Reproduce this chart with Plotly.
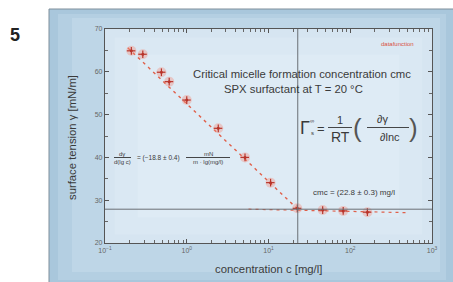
import plotly.graph_objects as go

# ---- data ----
conc = [0.21, 0.29, 0.49, 0.61, 1.0, 2.43, 5.16, 10.6, 22.5, 46, 82, 162]
gamma = [64.9, 64.1, 59.9, 57.7, 53.4, 46.8, 40.0, 34.1, 28.1, 27.7, 27.5, 27.2]
gamma_err = [0.9] * len(conc)

fit_c = [0.19, 22.8]
fit_g = [65.6, 27.9]
plateau_c = [5.7, 480]
plateau_g = [27.9, 27.1]

cmc_value = 22.8
plateau_level = 27.9

x_tickvals = [0.1, 1, 10, 100, 1000]
x_ticktext = ["10<sup>−1</sup>", "10<sup>0</sup>", "10<sup>1</sup>", "10<sup>2</sup>", "10<sup>3</sup>"]
y_tickvals = [20, 30, 40, 50, 60, 70]

# ---- layout geometry (pixels) ----
W, H = 453, 282
L, R, T, B = 105, 21, 29, 39
PW, PH = W - L - R, H - T - B


def px(x):
    return (x - L) / PW


def py(y):
    return (H - B - y) / PH


fig = go.Figure()

fig.add_trace(go.Scatter(x=fit_c, y=fit_g, mode="lines",
                         line=dict(color="#e0604a", width=1.4, dash="3px,4px"),
                         hoverinfo="skip", showlegend=False))
fig.add_trace(go.Scatter(x=plateau_c, y=plateau_g, mode="lines",
                         line=dict(color="#e0604a", width=1.2, dash="3px,4px"),
                         hoverinfo="skip", showlegend=False))
# halo
fig.add_trace(go.Scatter(x=conc, y=gamma, mode="markers",
                         marker=dict(size=10, color="rgba(245,140,120,0.38)", line=dict(width=0)),
                         hoverinfo="skip", showlegend=False))
fig.add_trace(go.Scatter(x=conc, y=gamma, mode="markers",
                         marker=dict(size=3, color="#b8342a"),
                         error_y=dict(type="data", array=gamma_err, color="#b8342a", thickness=1.2, width=0),
                         error_x=dict(type="percent", value=12, color="#b8342a", thickness=1.2, width=0),
                         showlegend=False))

minor_x = [k * 10 ** n for n in range(-1, 3) for k in range(2, 10)]

fig.update_xaxes(type="log", range=[-1, 3], tickvals=x_tickvals, ticktext=x_ticktext,
                 ticks="inside", ticklen=4, tickcolor="#555", showline=True, linecolor="#555",
                 linewidth=1.3, mirror="ticks", showgrid=False, zeroline=False,
                 tickfont=dict(family="Liberation Sans, Arial", size=7, color="#666"),
                 minor=dict(tickvals=minor_x, ticks="inside", ticklen=2.5, tickcolor="#666"))
fig.update_yaxes(range=[20, 70], tickvals=y_tickvals, ticks="inside", ticklen=4, tickcolor="#555",
                 showline=True, linecolor="#555", linewidth=1.3, mirror="ticks", showgrid=False,
                 zeroline=False, tickfont=dict(family="Liberation Sans, Arial", size=7, color="#666"),
                 minor=dict(dtick=5, ticks="inside", ticklen=3, tickcolor="#666"))

shapes = []
# outer blue panel with soft gradient imitation
shapes.append(dict(type="rect", xref="paper", yref="paper", x0=px(49), x1=px(460), y0=py(290), y1=py(9),
                   fillcolor="#a9c7dc", line=dict(color="#7f8f9a", width=1), layer="below"))
shapes.append(dict(type="rect", xref="paper", yref="paper", x0=px(58), x1=px(446), y0=py(280), y1=py(14),
                   fillcolor="#b4cfe2", line=dict(width=0), layer="below"))
shapes.append(dict(type="rect", xref="paper", yref="paper", x0=px(72), x1=px(440), y0=py(272), y1=py(18),
                   fillcolor="#bed6e7", line=dict(width=0), layer="below"))
# plot area background
shapes.append(dict(type="rect", xref="paper", yref="paper", x0=0, x1=1, y0=0, y1=1,
                   fillcolor="#d6e5f1", line=dict(width=0), layer="below"))
shapes.append(dict(type="rect", xref="paper", yref="paper", x0=0.03, x1=0.97, y0=0.04, y1=0.96,
                   fillcolor="#dae8f3", line=dict(width=0), layer="below"))
shapes.append(dict(type="rect", xref="paper", yref="paper", x0=0.1, x1=0.9, y0=0.12, y1=0.88,
                   fillcolor="#deebf5", line=dict(width=0), layer="below"))
# cmc lines
shapes.append(dict(type="line", xref="x", yref="paper", x0=cmc_value, x1=cmc_value, y0=0, y1=1,
                   line=dict(color="#6a6f75", width=1)))
shapes.append(dict(type="line", xref="paper", yref="y", x0=0, x1=1, y0=plateau_level, y1=plateau_level,
                   line=dict(color="#6a6f75", width=1)))
# fraction bars
for (xa, xb, yy) in [(328, 352, 127.5), (367, 409, 127.5), (114, 131, 157.5), (186, 230, 157.5)]:
    shapes.append(dict(type="line", xref="paper", yref="paper", x0=px(xa), x1=px(xb), y0=py(yy), y1=py(yy),
                       line=dict(color="#333", width=0.9)))
fig.update_layout(shapes=shapes)

FONT = "Liberation Sans, Arial, sans-serif"
anns = []


def txt(t, x, y, size, color="#3a3a3a", angle=0, xanchor="center"):
    anns.append(dict(text=t, xref="paper", yref="paper", x=px(x), y=py(y), showarrow=False,
                     xanchor=xanchor, yanchor="middle", textangle=angle,
                     font=dict(family=FONT, size=size, color=color)))


txt("<b>5</b>", 15, 35, 18, color="#222")

txt("Critical micelle formation concentration cmc", 302, 74, 11.3)
txt("SPX surfactant at T = 20 °C", 293, 89, 11.3)
txt("datafunction", 397, 44, 6, color="#d9503f")
txt("cmc = (22.8 ± 0.3) mg/l", 354, 192, 8)
txt("surface tension γ [mN/m]", 72, 138, 11.3, angle=-90)
txt("concentration c [mg/l]", 268, 269, 11.3)

# Gibbs formula
txt("Γ", 305, 128, 18)
txt("∞", 312, 121, 6)
txt("s", 312, 133, 6)
txt("=", 321, 128, 13)
txt("1", 340, 120, 11)
txt("RT", 340, 137, 14)
txt("(", 357, 128, 26, color="#555")
txt(")", 413, 128, 26, color="#555")
txt("∂γ", 382, 119, 11)
txt("∂lnc", 390, 137, 11)

# slope formula
txt("dγ", 122, 153.5, 6)
txt("d(lg c)", 122, 162, 6)
txt("= (−18.8 ± 0.4)", 158, 157.5, 6.5)
txt("mN", 208, 153.5, 6)
txt("m · lg(mg/l)", 208, 162, 6)

fig.update_layout(annotations=anns, width=W, height=H,
                  margin=dict(l=L, r=R, t=T, b=B, pad=0),
                  paper_bgcolor="white", plot_bgcolor="rgba(0,0,0,0)",
                  showlegend=False)

fig.write_html("out.html", config={"displayModeBar": False},
               post_script="document.body.style.margin='0';document.body.style.overflow='hidden';")
